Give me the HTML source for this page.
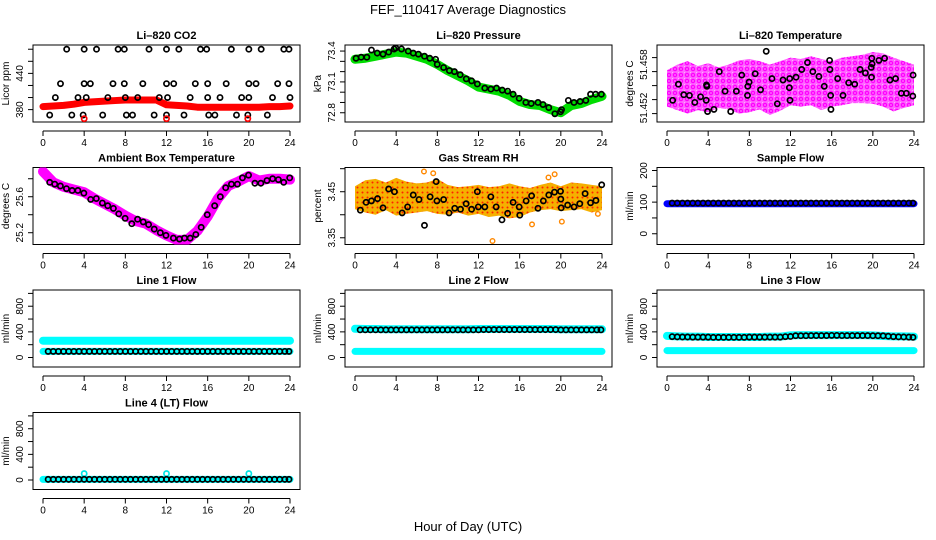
<!DOCTYPE html>
<html><head><meta charset="utf-8"><style>
body{margin:0;background:#fff;}
svg{display:block;font-family:"Liberation Sans",Arial,sans-serif;}
</style></head><body>
<svg id="chart" width="936" height="540" viewBox="0 0 936 540">
<defs>
<pattern id="pinkPat" width="6" height="6" patternUnits="userSpaceOnUse">
<rect width="6" height="6" fill="#ff66ff"/>
<circle cx="3" cy="3" r="1.6" fill="none" stroke="#ff00ff" stroke-width="1.3"/>
<circle cx="0" cy="0" r="0.8" fill="#fff"/>
</pattern>
<pattern id="orangePat" width="5" height="5" patternUnits="userSpaceOnUse">
<rect width="5" height="5" fill="#f5b000"/>
<circle cx="2.5" cy="2.5" r="1" fill="#ff2200"/>
</pattern>
</defs>
<text x="468" y="14" text-anchor="middle" font-size="13">FEF_110417  Average Diagnostics</text>
<text x="468" y="531" text-anchor="middle" font-size="13">Hour of Day (UTC)</text>
</svg>
<script>
// ---------- data ----------
const xTicks=[0,4,8,12,16,20,24];
const halfHours=[0.5,1,1.5,2,2.5,3,3.5,4,4.5,5,5.5,6,6.5,7,7.5,8,8.5,9,9.5,10,10.5,11,11.5,12,12.5,13,13.5,14,14.5,15,15.5,16,16.5,17,17.5,18,18.5,19,19.5,20,20.5,21,21.5,22,22.5,23,23.5,23.9];
const hours=[0,1,2,3,4,5,6,7,8,9,10,11,12,13,14,15,16,17,18,19,20,21,22,23,24];

// CO2
const co2Levels=[480,423,400,371];
const co2LevelHours=[
 [2.3,4.0,5.2,7.3,7.9,10.3,12.0,13.2,15.3,15.9,18.3,20.0,21.2,23.4,23.9],
 [1.7,4.0,4.6,6.8,7.9,9.7,12.0,12.7,14.8,16.0,17.8,20.0,20.7,22.8,23.9],
 [1.2,3.4,4.2,6.3,8.0,9.2,11.3,12.1,14.3,16.0,17.2,19.3,20.0,22.3,24.0],
 [0.65,2.8,3.9,5.8,8.1,8.7,10.8,12.0,13.7,16.1,16.7,18.8,19.9,21.8]];
const co2Band=[385,386,387,389,392,393,394,395,396,396,396,396,388,387,386,384,384,384,384,384,384,384,385,385,386];
const co2RedHours=[4.0,12.0,19.9];
const co2RedValues=[365,365,365];

// Pressure
const presHours=[0.1,0.6,1.15,1.6,2.16,2.72,3.27,3.8,3.96,4.52,5.17,5.66,6.16,6.75,7.27,7.83,7.99,8.61,9.17,9.66,10.22,10.81,11.33,11.89,12.61,13.2,13.75,14.31,14.83,15.36,15.95,16.6,17.12,17.78,18.27,18.83,19.42,19.97,20.07,20.73,21.28,21.87,22.43,22.89,23.38,23.94];
const presValues=[73.33,73.34,73.34,73.41,73.38,73.37,73.39,73.42,73.43,73.42,73.40,73.38,73.37,73.35,73.33,73.32,73.27,73.24,73.21,73.20,73.17,73.13,73.11,73.08,73.04,73.03,73.04,73.02,73.01,72.98,72.94,72.90,72.89,72.90,72.88,72.85,72.79,72.81,72.83,72.92,72.90,72.91,72.92,72.98,72.98,72.98];
const presBand=[73.32,73.33,73.35,73.37,73.39,73.38,73.35,73.32,73.27,73.21,73.16,73.11,73.05,73.03,73.01,72.97,72.91,72.88,72.87,72.83,72.80,72.87,72.89,72.93,72.96];

// Li-820 temperature
const tempHours=[0.55,1.11,1.63,2.18,2.7,3.26,3.81,3.84,3.88,3.94,4.56,5.08,5.64,6.19,6.74,7.26,7.82,7.85,7.98,8.57,9.09,9.64,10.2,10.72,11.27,11.89,11.92,11.95,12.54,13.09,13.65,14.17,14.76,15.28,15.8,15.83,15.9,15.93,16.58,17.1,17.65,18.24,18.76,19.28,19.84,19.87,19.9,19.93,20.59,21.14,21.66,22.21,22.77,23.26,23.88,23.91];
const tempValues=[51.4519,51.4542,51.4527,51.4526,51.4516,51.4524,51.4519,51.4541,51.4539,51.4503,51.4506,51.4560,51.4532,51.4503,51.4532,51.4555,51.4526,51.4539,51.4545,51.4557,51.4534,51.4589,51.4550,51.4514,51.4548,51.4537,51.4550,51.4519,51.4552,51.4563,51.4573,51.4560,51.4553,51.4539,51.4576,51.4563,51.4526,51.4506,51.4550,51.4526,51.4544,51.4542,51.4563,51.4558,51.4566,51.4552,51.4579,51.4571,51.4576,51.4579,51.4548,51.4550,51.4529,51.4529,51.4525,51.4555];
const tempCloudHi=[51.4562,51.4570,51.4575,51.4568,51.4572,51.4566,51.4570,51.4576,51.4578,51.4575,51.4570,51.4575,51.4580,51.4578,51.4582,51.4578,51.4575,51.4580,51.4582,51.4584,51.4588,51.4586,51.4580,51.4575,51.4570];
const tempCloudLo=[51.4510,51.4505,51.4500,51.4505,51.4502,51.4508,51.4506,51.4500,51.4502,51.4506,51.4498,51.4504,51.4512,51.4510,51.4512,51.4505,51.4510,51.4512,51.4515,51.4515,51.4514,51.4510,51.4503,51.4508,51.4512];

// Ambient box temperature
const ambHours=[0.65,1.14,1.69,2.28,2.83,3.39,3.97,4.63,5.18,5.77,6.29,6.84,7.36,7.98,8.63,9.19,9.74,10.26,10.81,11.4,11.95,12.67,13.26,13.75,14.3,14.85,15.37,15.96,16.68,17.23,17.75,18.31,18.89,19.38,19.97,20.59,21.17,21.76,22.31,22.87,23.39,23.97];
const ambValues=[25.76,25.74,25.72,25.69,25.67,25.67,25.64,25.57,25.58,25.53,25.50,25.47,25.41,25.36,25.30,25.35,25.32,25.29,25.24,25.20,25.17,25.14,25.13,25.14,25.14,25.18,25.26,25.40,25.50,25.60,25.70,25.74,25.74,25.81,25.84,25.75,25.75,25.78,25.80,25.79,25.76,25.81];
const ambBand=[25.88,25.76,25.71,25.68,25.65,25.58,25.52,25.46,25.39,25.33,25.30,25.23,25.17,25.12,25.12,25.22,25.38,25.58,25.72,25.77,25.83,25.78,25.80,25.80,25.79];

// Gas stream RH
const rhHours=[0.52,1.08,1.6,2.19,2.72,3.27,3.83,4.58,5.11,5.66,6.22,6.75,7.3,7.89,7.96,8.61,9.14,9.69,10.25,10.8,11.33,11.89,11.98,12.61,13.2,13.72,14.28,14.83,15.36,15.95,16.01,16.63,17.16,17.78,18.3,18.83,19.38,19.97,20.0,20.04,20.66,21.28,21.84,22.36,22.89,23.41,23.97];
const rhValues=[3.410,3.427,3.430,3.435,3.415,3.456,3.450,3.404,3.417,3.443,3.433,3.377,3.439,3.472,3.430,3.433,3.404,3.414,3.412,3.424,3.412,3.450,3.417,3.417,3.439,3.417,3.389,3.403,3.427,3.417,3.399,3.430,3.441,3.414,3.430,3.443,3.449,3.451,3.434,3.415,3.421,3.417,3.424,3.446,3.426,3.431,3.465];
const rhCloudHi=[3.462,3.475,3.478,3.470,3.480,3.472,3.468,3.470,3.478,3.465,3.460,3.462,3.465,3.460,3.462,3.468,3.462,3.458,3.465,3.470,3.462,3.470,3.468,3.465,3.462];
const rhCloudLo=[3.412,3.405,3.400,3.410,3.398,3.402,3.405,3.408,3.402,3.400,3.405,3.398,3.402,3.395,3.398,3.392,3.395,3.405,3.410,3.412,3.408,3.410,3.412,3.405,3.410];
const rhOutlierHours=[6.7,7.6,13.36,17.2,18.8,19.4,20.1,23.6];
const rhOutlierValues=[3.494,3.490,3.343,3.379,3.481,3.488,3.385,3.402];

// Flows
const sampleBlack=[97,97,97,97,97,97,97,97,97,97,97,97,97,97,97,97,97,97,97,97,97,97,97,97,97,97,97,97,97,97,97,97,97,97,97,97,97,97,97,97,97,97,97,97,97,97,97,97];
const sampleBand=[95,95,95,95,95,95,95,95,95,95,95,95,95,95,95,95,95,95,95,95,95,95,95,95,95];
const line1Black=[95,95,95,95,95,95,95,95,95,95,95,95,95,95,95,95,95,95,95,95,95,95,95,95,95,95,95,95,95,95,95,95,95,95,95,95,95,95,95,95,95,95,95,95,95,95,95,95];
const line1CyanHi=[262,262,262,262,262,262,262,262,262,262,262,262,262,262,262,262,262,262,262,262,262,262,262,262,262];
const line1CyanLo=[95,95,95,95,95,95,95,95,95,95,95,95,95,95,95,95,95,95,95,95,95,95,95,95,95];
const line2Black=[432,432,432,432,432,432,432,432,432,432,432,432,432,432,432,432,432,432,432,432,432,432,432,432,435,435,435,435,435,435,435,435,435,435,435,435,435,435,435,432,432,432,432,432,432,432,432,432];
const line2CyanHi=[448,445,445,440,440,440,440,440,440,440,440,440,445,445,445,445,445,445,445,445,440,440,440,440,440];
const line2CyanLo=[95,95,95,95,95,95,95,95,95,95,95,95,95,95,95,95,95,95,95,95,95,95,95,95,95];
const line3Black=[325,322,320,320,318,318,318,318,315,315,315,315,315,315,315,318,318,318,318,318,318,318,325,328,340,340,340,342,342,342,342,345,345,342,342,342,342,342,342,340,340,338,332,325,322,320,318,315];
const line3CyanHi=[338,330,325,325,320,320,320,320,320,320,325,325,345,350,350,350,350,350,350,350,345,335,330,330,325];
const line3CyanLo=[108,108,108,108,108,108,108,108,108,108,108,108,108,108,108,108,108,108,108,108,108,108,108,108,108];
const line4Black=[10,10,10,10,10,10,10,10,10,10,10,10,10,10,10,10,10,10,10,10,10,10,10,10,10,10,10,10,10,10,10,10,10,10,10,10,10,10,10,10,10,10,10,10,10,10,10,10];
const line4Cyan=[10,10,10,10,10,10,10,10,10,10,10,10,10,10,10,10,10,10,10,10,10,10,10,10,10];
const line4SpikeHours=[4,12,20];
const line4SpikeValues=[100,100,100];

// ---------- drawing ----------
const NS="http://www.w3.org/2000/svg";
const svg=document.getElementById('chart');
function mk(tag,attrs,parent){const e=document.createElementNS(NS,tag);for(const k in attrs)e.setAttribute(k,attrs[k]);(parent||svg).appendChild(e);return e;}

function panel(col,row,name,title,ylab,ydom,yticks,ylabels){
  const L=33+312*col,R=300+312*col,T=45+122.5*row,B=T+77;
  const x0=43+312*col,x1=290+312*col;
  const g=mk('g',{});
  
  
  const sx=h=>x0+(x1-x0)*h/24;
  const sy=v=>B-(v-ydom[0])/(ydom[1]-ydom[0])*(B-T);
  const t=mk('text',{x:(L+R)/2,y:T-6,'text-anchor':'middle','font-size':11,'font-weight':'bold'},g);
  t.textContent=title;
  
  
  const box=mk('rect',{x:L,y:T,width:R-L,height:B-T,fill:'none',stroke:'#000','stroke-width':1},g);
  
  
  const xa=mk('g',{},g);
  
  
  mk('line',{x1:sx(0),x2:sx(24),y1:B+9,y2:B+9,stroke:'#000'},xa);
  xTicks.forEach(v=>{
    mk('line',{x1:sx(v),x2:sx(v),y1:B+9,y2:B+14,stroke:'#000'},xa);
    const tl=mk('text',{x:sx(v),y:B+24,'text-anchor':'middle','font-size':10},xa);
    tl.textContent=v;
    
    
  });
  const ya=mk('g',{},g);
  
  
  mk('line',{x1:L,x2:L,y1:sy(yticks[0]),y2:sy(yticks[yticks.length-1]),stroke:'#000'},ya);
  yticks.forEach(v=>mk('line',{x1:L-5,x2:L,y1:sy(v),y2:sy(v),stroke:'#000'},ya));
  ylabels.forEach(([v,s])=>{
    const yl=mk('text',{x:0,y:0,'text-anchor':'middle','font-size':10,transform:`translate(${L-10},${sy(v)}) rotate(-90)`},ya);
    yl.textContent=s;
    
    
  });
  const yt=mk('text',{x:0,y:0,'text-anchor':'middle','font-size':10,transform:`translate(${L-24},${(T+B)/2}) rotate(-90)`},g);
  yt.textContent=ylab;
  
  
  const clip='clip'+name;
  const cp=mk('clipPath',{id:clip},g);mk('rect',{x:L,y:T,width:R-L,height:B-T},cp);
  const plot=mk('g',{'clip-path':`url(#${clip})`},g);
  return {sx,sy,plot};
}
function band(p,xs,vs,color,w,name){
  const pl=mk('polyline',{points:xs.map((h,i)=>p.sx(h)+','+p.sy(vs[i])).join(' '),fill:'none',stroke:color,'stroke-width':w,'stroke-linecap':'round','stroke-linejoin':'round'},p.plot);
  
  
}
function cloud(p,xs,hi,lo,fill,name){
  const pts=xs.map((h,i)=>p.sx(h)+','+p.sy(hi[i])).concat(xs.slice().reverse().map((h,j)=>p.sx(h)+','+p.sy(lo[xs.length-1-j])));
  const pg=mk('polygon',{points:pts.join(' '),fill:fill,stroke:'none'},p.plot);
  
  
}
function pts(p,xs,vs,color,name,r,sw){
  xs.forEach((h,i)=>{
    const c=mk('circle',{cx:p.sx(h),cy:p.sy(vs[i]),r:r||2.6,fill:'none',stroke:color,'stroke-width':sw||1.7},p.plot);
    
    
  });
}

let p=panel(0,0,'co2','Li\u2013820 CO2','Licor ppm',[359.5,487],[380,400,420,440,460,480],[[380,'380'],[440,'440']]);
band(p,hours,co2Band,'#ff0000',7,'co2-band');
co2Levels.forEach((lv,k)=>pts(p,co2LevelHours[k],co2LevelHours[k].map(()=>lv),'#000','co2-point'));
pts(p,co2RedHours,co2RedValues,'#ff0000','co2-red-point');

p=panel(1,0,'pressure','Li\u2013820 Pressure','kPa',[72.71,73.459],[72.8,72.9,73.0,73.1,73.2,73.3,73.4],[[72.8,'72.8'],[73.1,'73.1'],[73.4,'73.4']]);
band(p,hours,presBand,'#00dd00',9,'pressure-band');
pts(p,presHours,presValues,'#000','pressure-point');

p=panel(2,0,'li820-temp','Li\u2013820 Temperature','degrees C',[51.4488,51.4598],[51.450,51.452,51.454,51.456,51.458],[[51.4508,'51.452'],[51.4570,'51.458']]);
cloud(p,hours,tempCloudHi,tempCloudLo,'url(#pinkPat)','li820-temp-cloud');
pts(p,tempHours,tempValues,'#000','li820-temp-point');

p=panel(0,1,'ambient-temp','Ambient Box Temperature','degrees C',[25.069,25.925],[25.2,25.4,25.6,25.8],[[25.2,'25.2'],[25.6,'25.6']]);
band(p,hours,ambBand,'#ff00ff',10,'ambient-band');
pts(p,ambHours,ambValues,'#000','ambient-point');

p=panel(1,1,'rh','Gas Stream RH','percent',[3.3354,3.5026],[3.35,3.40,3.45,3.50],[[3.35,'3.35'],[3.45,'3.45']]);
cloud(p,hours,rhCloudHi,rhCloudLo,'url(#orangePat)','rh-cloud');
pts(p,rhOutlierHours,rhOutlierValues,'#ff8800','rh-outlier',2.3,1.4);
pts(p,rhHours,rhValues,'#000','rh-point');

p=panel(2,1,'sample-flow','Sample Flow','ml/min',[-34,209.5],[0,50,100,150,200],[[0,'0'],[100,'100'],[200,'200']]);
band(p,hours,sampleBand,'#0000ff',7,'sample-band');
pts(p,halfHours,sampleBlack,'#000','sample-point');

const flowTicks=[0,200,400,600,800,1000],flowLabels=[[0,'0'],[400,'400'],[800,'800']],flowDom=[-148,1053];
p=panel(0,2,'line1','Line 1 Flow','ml/min',flowDom,flowTicks,flowLabels);
band(p,hours,line1CyanHi,'#00ffff',8,'line1-band-high');
band(p,hours,line1CyanLo,'#00ffff',7,'line1-band-low');
pts(p,halfHours,line1Black,'#000','line1-point');

p=panel(1,2,'line2','Line 2 Flow','ml/min',flowDom,flowTicks,flowLabels);
band(p,hours,line2CyanHi,'#00ffff',8,'line2-band-high');
band(p,hours,line2CyanLo,'#00ffff',7,'line2-band-low');
pts(p,halfHours,line2Black,'#000','line2-point');

p=panel(2,2,'line3','Line 3 Flow','ml/min',flowDom,flowTicks,flowLabels);
band(p,hours,line3CyanHi,'#00ffff',8,'line3-band-high');
band(p,hours,line3CyanLo,'#00ffff',7,'line3-band-low');
pts(p,halfHours,line3Black,'#000','line3-point');

p=panel(0,3,'line4','Line 4 (LT) Flow','ml/min',flowDom,flowTicks,flowLabels);
band(p,hours,line4Cyan,'#00ffff',7,'line4-band');
pts(p,line4SpikeHours,line4SpikeValues,'#00e5e5','line4-spike');
pts(p,halfHours,line4Black,'#000','line4-point');
</script>
</body></html>
